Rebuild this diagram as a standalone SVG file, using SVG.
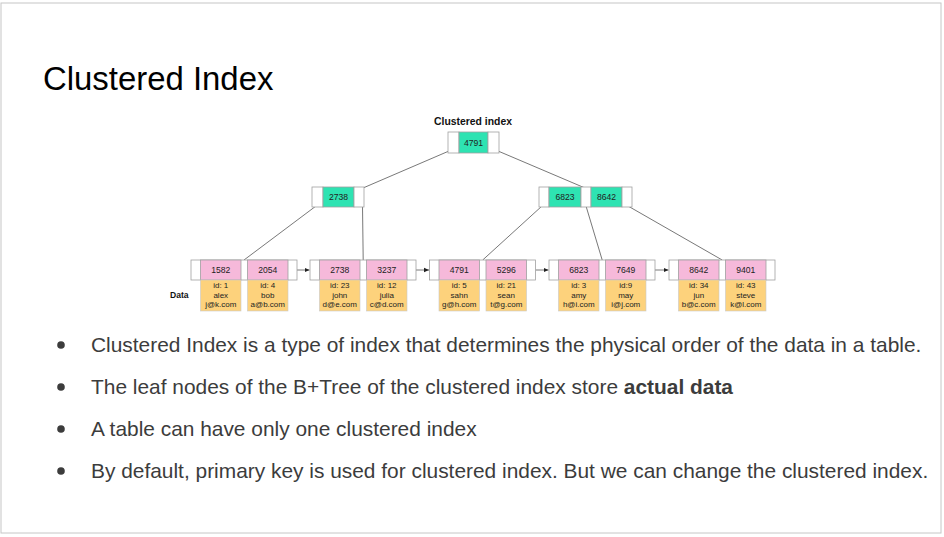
<svg xmlns="http://www.w3.org/2000/svg" width="944" height="537" viewBox="0 0 944 537">
<style>
  .frame{fill:#ffffff;stroke:#c6c6c6;stroke-width:1}
  .title{font-family:"Liberation Sans",Arial,sans-serif;font-size:32.9px;fill:#000}
  .bul{font-family:"Liberation Sans",Arial,sans-serif;font-size:20.9px;fill:#3c3c3c}
  .dot{fill:#3c3c3c}
  .w{fill:#ffffff;stroke:#a0a0a0;stroke-width:0.8}
  .g{fill:#2ee3b2;stroke:#a0a0a0;stroke-width:0.8}
  .p{fill:#f6b9da;stroke:#a0a0a0;stroke-width:0.8}
  .y{fill:#fdd27c;stroke:#c8c8c8;stroke-width:0.6}
  .k{font-family:"Liberation Sans",Arial,sans-serif;font-size:8.6px;fill:#222;text-anchor:middle}
  .d{font-family:"Liberation Sans",Arial,sans-serif;font-size:8px;fill:#222;text-anchor:middle}
  .lbl{font-family:"Liberation Sans",Arial,sans-serif;font-size:10.4px;font-weight:bold;fill:#111;text-anchor:middle}
  .data{font-family:"Liberation Sans",Arial,sans-serif;font-size:8.6px;font-weight:bold;fill:#111}
  .c{stroke:#555;stroke-width:0.8;fill:none}
</style>
<defs>
  <marker id="ah" markerWidth="6" markerHeight="6" refX="5" refY="3" orient="auto" markerUnits="userSpaceOnUse">
    <path d="M0,0.8 L5,3 L0,5.2 Z" fill="#222"/>
  </marker>
</defs>
<rect class="frame" x="1" y="3" width="940" height="530"/>
<text class="title" x="43" y="90">Clustered Index</text>

<text class="lbl" x="473" y="125">Clustered index</text>

<g id="connectors">
  <path class="c" d="M449,151 L363,188"/>
  <path class="c" d="M498,151 L585,188"/>
  <path class="c" d="M316,206 L244,260"/>
  <path class="c" d="M362.5,206 L363.2,260"/>
  <path class="c" d="M542,206 L482.7,260"/>
  <path class="c" d="M586,206 L602.2,260"/>
  <path class="c" d="M628,206 L722.2,260"/>
  <path class="c" d="M297,270 L309.5,270" marker-end="url(#ah)"/>
  <path class="c" d="M416,270 L429,270" marker-end="url(#ah)"/>
  <path class="c" d="M535.5,270 L548.5,270" marker-end="url(#ah)"/>
  <path class="c" d="M655,270 L668.5,270" marker-end="url(#ah)"/>
</g>

<g id="root">
  <rect class="w" x="448" y="132" width="11" height="21"/>
  <rect class="g" x="459" y="132" width="29" height="21"/>
  <rect class="w" x="488" y="132" width="11" height="21"/>
  <text class="k" x="473.5" y="145.5">4791</text>
</g>

<g id="inner-left">
  <rect class="w" x="312" y="187" width="11" height="20"/>
  <rect class="g" x="323" y="187" width="31" height="20"/>
  <rect class="w" x="354" y="187" width="10" height="20"/>
  <text class="k" x="338.5" y="200">2738</text>
</g>

<g id="inner-right">
  <rect class="w" x="539" y="187" width="10" height="20"/>
  <rect class="g" x="549" y="187" width="32" height="20"/>
  <rect class="w" x="581" y="187" width="10" height="20"/>
  <rect class="g" x="591" y="187" width="31" height="20"/>
  <rect class="w" x="622" y="187" width="10" height="20"/>
  <text class="k" x="565" y="200">6823</text>
  <text class="k" x="606.5" y="200">8642</text>
</g>

<text class="data" x="170" y="298">Data</text>

<g id="leaf1">
  <rect class="w" x="191" y="260" width="106" height="20"/>
  <rect class="p" x="200.5" y="260" width="40.5" height="20"/>
  <rect class="p" x="247.5" y="260" width="40.5" height="20"/>
  <rect class="y" x="200.5" y="280" width="40.5" height="31"/>
  <rect class="y" x="247.5" y="280" width="40.5" height="31"/>
  <text class="k" x="220.75" y="273">1582</text>
  <text class="k" x="267.75" y="273">2054</text>
  <text class="d" x="220.75" y="288">id: 1</text>
  <text class="d" x="220.75" y="297.5">alex</text>
  <text class="d" x="220.75" y="307">j@k.com</text>
  <text class="d" x="267.75" y="288">id: 4</text>
  <text class="d" x="267.75" y="297.5">bob</text>
  <text class="d" x="267.75" y="307">a@b.com</text>
</g>

<g id="leaf2">
  <rect class="w" x="310" y="260" width="106" height="20"/>
  <rect class="p" x="319.5" y="260" width="40.5" height="20"/>
  <rect class="p" x="366.5" y="260" width="40.5" height="20"/>
  <rect class="y" x="319.5" y="280" width="40.5" height="31"/>
  <rect class="y" x="366.5" y="280" width="40.5" height="31"/>
  <text class="k" x="339.75" y="273">2738</text>
  <text class="k" x="386.75" y="273">3237</text>
  <text class="d" x="339.75" y="288">id: 23</text>
  <text class="d" x="339.75" y="297.5">john</text>
  <text class="d" x="339.75" y="307">d@e.com</text>
  <text class="d" x="386.75" y="288">id: 12</text>
  <text class="d" x="386.75" y="297.5">julia</text>
  <text class="d" x="386.75" y="307">c@d.com</text>
</g>

<g id="leaf3">
  <rect class="w" x="429.5" y="260" width="106" height="20"/>
  <rect class="p" x="439" y="260" width="40.5" height="20"/>
  <rect class="p" x="486" y="260" width="40.5" height="20"/>
  <rect class="y" x="439" y="280" width="40.5" height="31"/>
  <rect class="y" x="486" y="280" width="40.5" height="31"/>
  <text class="k" x="459.25" y="273">4791</text>
  <text class="k" x="506.25" y="273">5296</text>
  <text class="d" x="459.25" y="288">id: 5</text>
  <text class="d" x="459.25" y="297.5">sahn</text>
  <text class="d" x="459.25" y="307">g@h.com</text>
  <text class="d" x="506.25" y="288">id: 21</text>
  <text class="d" x="506.25" y="297.5">sean</text>
  <text class="d" x="506.25" y="307">t@g.com</text>
</g>

<g id="leaf4">
  <rect class="w" x="549" y="260" width="106" height="20"/>
  <rect class="p" x="558.5" y="260" width="40.5" height="20"/>
  <rect class="p" x="605.5" y="260" width="40.5" height="20"/>
  <rect class="y" x="558.5" y="280" width="40.5" height="31"/>
  <rect class="y" x="605.5" y="280" width="40.5" height="31"/>
  <text class="k" x="578.75" y="273">6823</text>
  <text class="k" x="625.75" y="273">7649</text>
  <text class="d" x="578.75" y="288">id: 3</text>
  <text class="d" x="578.75" y="297.5">amy</text>
  <text class="d" x="578.75" y="307">h@i.com</text>
  <text class="d" x="625.75" y="288">id:9</text>
  <text class="d" x="625.75" y="297.5">may</text>
  <text class="d" x="625.75" y="307">i@j.com</text>
</g>

<g id="leaf5">
  <rect class="w" x="669" y="260" width="106" height="20"/>
  <rect class="p" x="678.5" y="260" width="40.5" height="20"/>
  <rect class="p" x="725.5" y="260" width="40.5" height="20"/>
  <rect class="y" x="678.5" y="280" width="40.5" height="31"/>
  <rect class="y" x="725.5" y="280" width="40.5" height="31"/>
  <text class="k" x="698.75" y="273">8642</text>
  <text class="k" x="745.75" y="273">9401</text>
  <text class="d" x="698.75" y="288">id: 34</text>
  <text class="d" x="698.75" y="297.5">jun</text>
  <text class="d" x="698.75" y="307">b@c.com</text>
  <text class="d" x="745.75" y="288">id: 43</text>
  <text class="d" x="745.75" y="297.5">steve</text>
  <text class="d" x="745.75" y="307">k@l.com</text>
</g>

<g id="bullets">
  <circle class="dot" cx="61" cy="345" r="3.8"/>
  <text class="bul" x="91" y="351.5">Clustered Index is a type of index that determines the physical order of the data in a table.</text>
  <circle class="dot" cx="61" cy="387" r="3.8"/>
  <text class="bul" x="91" y="393.5">The leaf nodes of the B+Tree of the clustered index store <tspan font-weight="bold">actual data</tspan></text>
  <circle class="dot" cx="61" cy="429" r="3.8"/>
  <text class="bul" x="91" y="435.5">A table can have only one clustered index</text>
  <circle class="dot" cx="61" cy="471" r="3.8"/>
  <text class="bul" x="91" y="477.5">By default, primary key is used for clustered index. But we can change the clustered index.</text>
</g>
</svg>
